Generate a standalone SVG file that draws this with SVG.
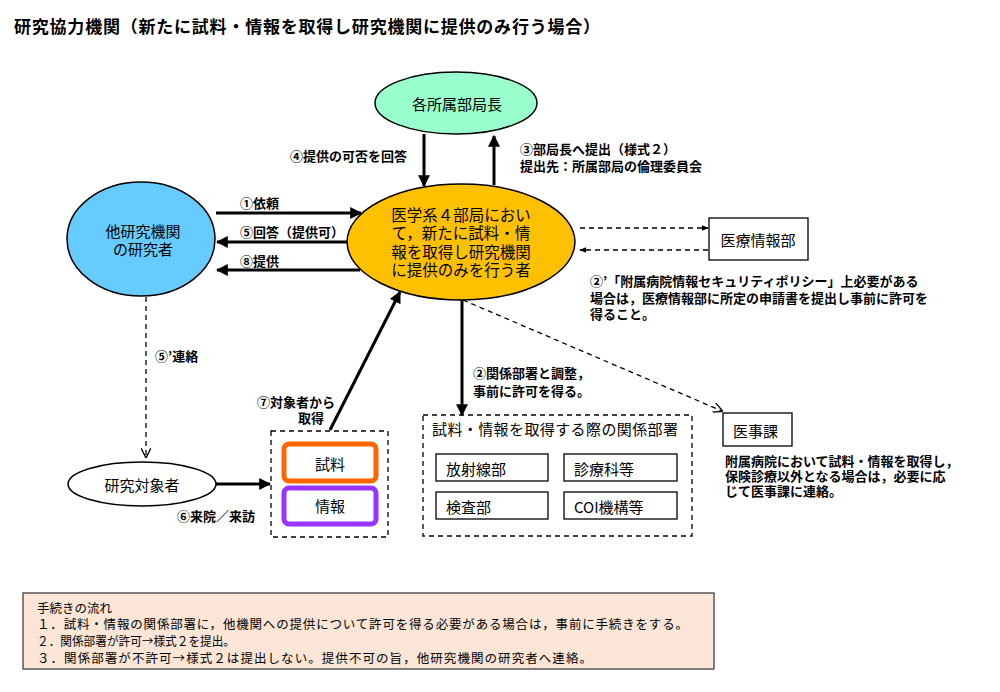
<svg xmlns="http://www.w3.org/2000/svg" width="1000" height="692" viewBox="0 0 1000 692">
<style>
text{font-family:"Noto Sans CJK JP","Noto Sans CJK SC",sans-serif;fill:#000;dominant-baseline:central}
.t{font-size:17px;font-weight:bold}
.n{font-size:15px}
.c{font-size:15.5px}
.l{font-size:13px;font-weight:bold}
.s{font-size:12.5px}
.el{stroke:#000;stroke-width:1.5}
.box{fill:#fff;stroke:#000;stroke-width:1.3}
.dbox{fill:none;stroke:#000;stroke-width:1.3;stroke-dasharray:5,4}
.a{stroke:#000;stroke-width:3;fill:none;marker-end:url(#ah)}
.d{stroke:#000;stroke-width:1.3;fill:none;stroke-dasharray:5,4}
</style>
<defs>
<marker id="ah" viewBox="0 0 10 10" refX="9" refY="5" markerWidth="4" markerHeight="4" orient="auto" markerUnits="strokeWidth"><path d="M0,0 L10,5 L0,10 z" fill="#000"/></marker>
<marker id="sh" viewBox="0 0 10 10" refX="9" refY="5" markerWidth="7" markerHeight="7" orient="auto" markerUnits="userSpaceOnUse"><path d="M0,1 L10,5 L0,9 z" fill="#000"/></marker>
<marker id="vh" viewBox="0 0 10 10" refX="9" refY="5" markerWidth="10" markerHeight="10" orient="auto" markerUnits="userSpaceOnUse"><path d="M0,0 L10,5 L0,10" fill="none" stroke="#000" stroke-width="1.3"/></marker>
</defs>
<rect width="1000" height="692" fill="#fff"/>
<text class="t" x="14" y="25" textLength="586">研究協力機関（新たに試料・情報を取得し研究機関に提供のみ行う場合）</text>

<g id="connectors">
<line class="a" x1="216" y1="213" x2="361" y2="213"/>
<line class="a" x1="348" y1="242" x2="217" y2="242"/>
<line class="a" x1="360" y1="270" x2="217" y2="270"/>
<line class="a" x1="424" y1="134" x2="424" y2="186"/>
<line class="a" x1="494" y1="185" x2="494" y2="136"/>
<line class="a" x1="330" y1="430" x2="400" y2="292"/>
<line class="a" x1="462" y1="300" x2="462" y2="415"/>
<line class="a" x1="216" y1="484" x2="270" y2="484"/>
<line class="d" x1="580" y1="228" x2="708" y2="228" marker-end="url(#sh)"/>
<line class="d" x1="708" y1="250" x2="580" y2="250" marker-end="url(#sh)"/>
<line class="d" x1="463" y1="300" x2="722" y2="411" marker-end="url(#vh)"/>
<line class="d" x1="146" y1="297" x2="146" y2="457" marker-end="url(#vh)"/>
<text class="l" x="240" y="202">①依頼</text>
<text class="l" x="240" y="231">⑤回答（提供可）</text>
<text class="l" x="240" y="260">⑧提供</text>
<text class="l" x="290" y="155">④提供の可否を回答</text>
<text class="l" x="520" y="148">③部局長へ提出（様式２）</text>
<text class="l" x="520" y="165">提出先：所属部局の倫理委員会</text>
<text class="l" x="155" y="355">⑤’連絡</text>
<text class="l" x="257" y="401">⑦対象者から</text>
<text class="l" x="298" y="417">取得</text>
<text class="l" x="177" y="515">⑥来院／来訪</text>
<text class="l" x="473" y="372">②関係部署と調整，</text>
<text class="l" x="473" y="390">事前に許可を得る。</text>
</g>

<g id="node-bukyokucho">
<ellipse class="el" cx="456" cy="103" rx="81" ry="31" fill="#99ffcc"/>
<text class="n" x="457" y="103" text-anchor="middle">各所属部局長</text>
</g>

<g id="node-other-researcher">
<ellipse class="el" cx="141" cy="239" rx="74" ry="57" fill="#66ccff"/>
<text class="n" x="143" y="230" text-anchor="middle">他研究機関</text>
<text class="n" x="143" y="248" text-anchor="middle">の研究者</text>
</g>

<g id="node-main">
<ellipse class="el" cx="461" cy="242" rx="114" ry="58" fill="#ffc000"/>
<text class="c" x="461" y="214" text-anchor="middle">医学系４部局におい</text>
<text class="c" x="461" y="232" text-anchor="middle">て，新たに試料・情</text>
<text class="c" x="461" y="251" text-anchor="middle">報を取得し研究機関</text>
<text class="c" x="461" y="269" text-anchor="middle">に提供のみを行う者</text>
</g>

<g id="node-iryojoho">
<rect class="box" x="709" y="218" width="99" height="42"/>
<text class="n" x="758" y="239" text-anchor="middle">医療情報部</text>
<text class="l" x="590" y="280">②’「附属病院情報セキュリティポリシー」上必要がある</text>
<text class="l" x="590" y="297">場合は，医療情報部に所定の申請書を提出し事前に許可を</text>
<text class="l" x="590" y="313">得ること。</text>
</g>

<g id="node-subject">
<ellipse class="el" cx="142" cy="484" rx="74" ry="22" fill="#fff"/>
<text class="n" x="142" y="484" text-anchor="middle">研究対象者</text>
</g>

<g id="node-sample-info">
<rect class="dbox" x="271" y="431" width="117" height="106"/>
<rect x="284" y="444" width="92" height="37" rx="5" fill="#fff" stroke="#ff6600" stroke-width="5"/>
<text class="n" x="330" y="463" text-anchor="middle">試料</text>
<rect x="284" y="488" width="92" height="36" rx="5" fill="#fff" stroke="#9933ff" stroke-width="5"/>
<text class="n" x="330" y="505" text-anchor="middle">情報</text>
</g>

<g id="node-departments">
<rect class="dbox" x="423" y="415" width="269" height="121"/>
<text class="n" x="432" y="428" textLength="246">試料・情報を取得する際の関係部署</text>
<rect class="box" x="436" y="454" width="112" height="27"/>
<text class="n" x="446" y="468">放射線部</text>
<rect class="box" x="564" y="454" width="113" height="27"/>
<text class="n" x="574" y="468">診療科等</text>
<rect class="box" x="436" y="492" width="112" height="27"/>
<text class="n" x="446" y="506">検査部</text>
<rect class="box" x="564" y="492" width="113" height="27"/>
<text class="n" x="574" y="506">COI機構等</text>
</g>

<g id="node-ijika">
<rect class="box" x="723" y="413" width="69" height="33"/>
<text class="n" x="733" y="430">医事課</text>
<text class="l" x="725" y="460">附属病院において試料・情報を取得し，</text>
<text class="l" x="725" y="475">保険診療以外となる場合は，必要に応</text>
<text class="l" x="725" y="490">じて医事課に連絡。</text>
</g>

<g id="node-procedure">
<rect x="23" y="593" width="691" height="76" fill="#fbe5d6" stroke="#404040" stroke-width="1.3"/>
<text class="s" x="37" y="607">手続きの流れ</text>
<text class="s" x="37" y="623" textLength="651">１．試料・情報の関係部署に，他機関への提供について許可を得る必要がある場合は，事前に手続きをする。</text>
<text class="s" x="37" y="640" textLength="198" lengthAdjust="spacingAndGlyphs">２．関係部署が許可→様式２を提出。</text>
<text class="s" x="37" y="657" textLength="555">３．関係部署が不許可→様式２は提出しない。提供不可の旨，他研究機関の研究者へ連絡。</text>
</g>
</svg>
